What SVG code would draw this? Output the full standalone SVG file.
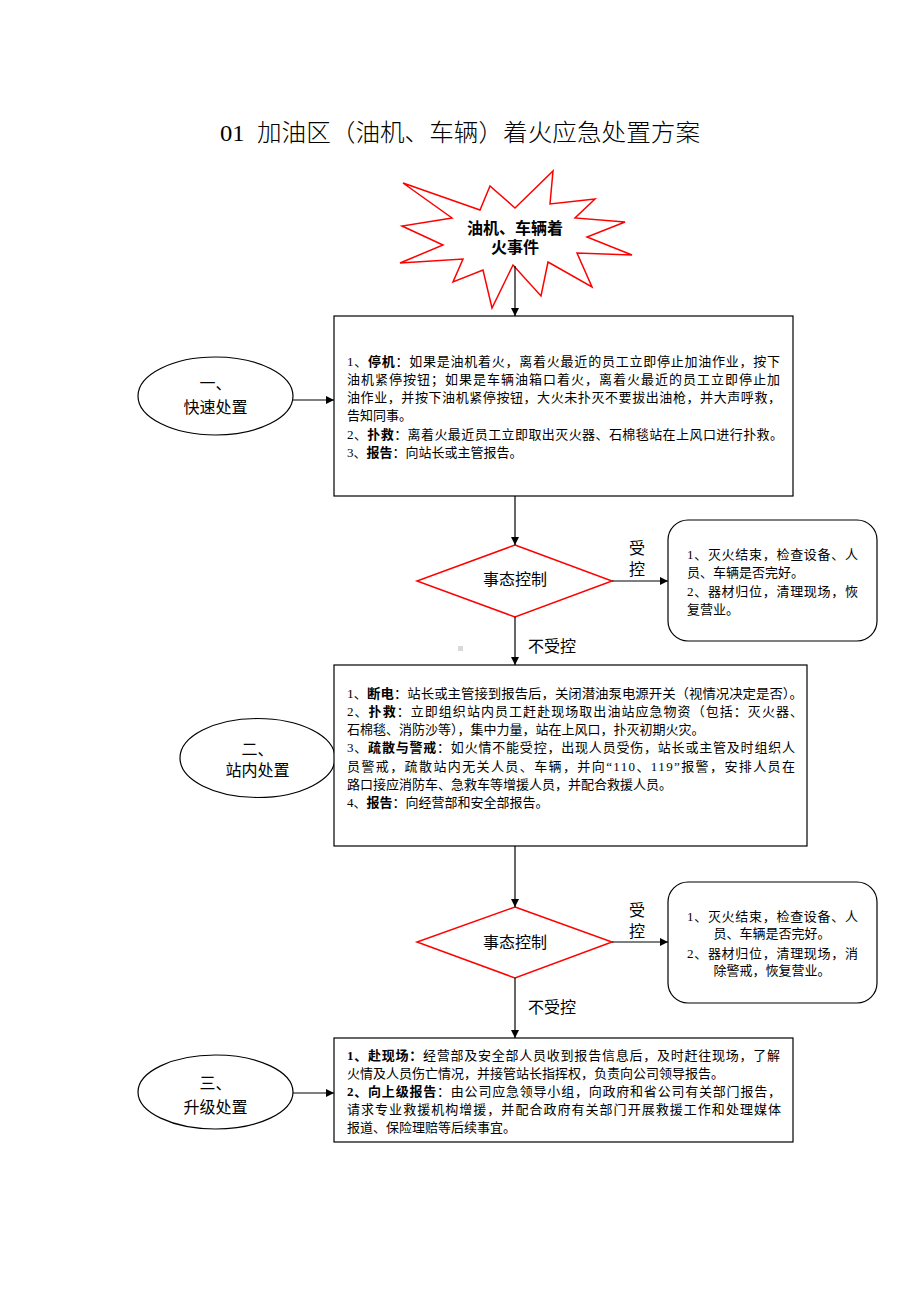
<svg xmlns="http://www.w3.org/2000/svg" width="920" height="1302" viewBox="0 0 920 1302">
<defs>
<marker id="arr" viewBox="0 0 10 10" refX="10" refY="5" markerWidth="9" markerHeight="8" markerUnits="userSpaceOnUse" orient="auto">
<path d="M0,0 L10,5 L0,10 z" fill="#000"/>
</marker>
<style>
.t{font-family:"Liberation Serif","Noto Sans CJK SC",serif;font-size:13px;fill:#000}
.c{font-family:"Liberation Serif","Noto Sans CJK SC",serif;font-size:16px;fill:#000;text-anchor:middle}
.s{font-family:"Liberation Sans","Noto Sans CJK SC",sans-serif;font-size:16px;fill:#000;text-anchor:middle}
.b{font-weight:bold}
.box{fill:#fff;stroke:#000;stroke-width:1.2}
.red{fill:#fff;stroke:#f00;stroke-width:1.5}
.conn{stroke:#000;stroke-width:1.2;fill:none;marker-end:url(#arr)}
</style>
</defs>
<rect width="920" height="1302" fill="#fff"/>
<text x="220" y="141" font-family="Liberation Serif,'Noto Sans CJK SC',serif" font-size="24" font-weight="300" textLength="480" lengthAdjust="spacingAndGlyphs">01&#160;&#160;加油区（油机、车辆）着火应急处置方案</text>

<g id="start">
<polygon class="red" stroke-width="2" points="403,183 480,210 490,186 515,208 553,171 550,204 595,199 575,218 625,222 587,237 632,255 577,253 592,287 548,262 541,296 513,265 492,308 483,270 453,282 463,259 400,263 443,245 402,226 452,218"/>
<text class="s b" x="515" y="234">油机、车辆着</text>
<text class="s b" x="515" y="253">火事件</text>
</g>

<g id="e1">
<ellipse cx="215.5" cy="396" rx="77.5" ry="39" class="box"/>
<text class="c" x="215.5" y="389">一、</text>
<text class="c" x="215.5" y="413">快速处置</text>
</g>

<g id="box1">
<rect x="334" y="316" width="459" height="180" class="box"/>
<text class="t" x="347" y="366" textLength="433" lengthAdjust="spacing">1、<tspan class="b">停机</tspan>：如果是油机着火，离着火最近的员工立即停止加油作业，按下</text>
<text class="t" x="347" y="384" textLength="433" lengthAdjust="spacing">油机紧停按钮；如果是车辆油箱口着火，离着火最近的员工立即停止加</text>
<text class="t" x="347" y="402" textLength="434" lengthAdjust="spacing">油作业，并按下油机紧停按钮，大火未扑灭不要拔出油枪，并大声呼救，</text>
<text class="t" x="347" y="420">告知同事。</text>
<text class="t" x="347" y="439" textLength="436" lengthAdjust="spacing">2、<tspan class="b">扑救</tspan>：离着火最近员工立即取出灭火器、石棉毯站在上风口进行扑救。</text>
<text class="t" x="347" y="457">3、<tspan class="b">报告</tspan>：向站长或主管报告。</text>
</g>

<g id="d1">
<polygon class="red" points="515,545 612,581 515,617 417,581"/>
<text class="s" x="515" y="585">事态控制</text>
</g>

<g id="r1">
<rect x="668" y="520" width="209" height="121" rx="20" ry="20" class="box"/>
<text class="t" x="687" y="559" textLength="171" lengthAdjust="spacing">1、灭火结束，检查设备、人</text>
<text class="t" x="687" y="577">员、车辆是否完好。</text>
<text class="t" x="687" y="596" textLength="171" lengthAdjust="spacing">2、器材归位，清理现场，恢</text>
<text class="t" x="687" y="614">复营业。</text>
</g>

<rect x="458" y="646" width="5" height="5" fill="#d9d9d9"/>

<g id="e2">
<ellipse cx="257.5" cy="758" rx="77.5" ry="39.5" class="box"/>
<text class="c" x="257.5" y="755">二、</text>
<text class="c" x="257.5" y="776">站内处置</text>
</g>

<g id="box2">
<rect x="334" y="665" width="473" height="181" class="box"/>
<text class="t" x="347" y="698" textLength="456" lengthAdjust="spacingAndGlyphs">1、<tspan class="b">断电</tspan>：站长或主管接到报告后，关闭潜油泵电源开关（视情况决定是否）。</text>
<text class="t" x="347" y="716" textLength="456" lengthAdjust="spacing">2、<tspan class="b">扑救</tspan>：立即组织站内员工赶赴现场取出油站应急物资（包括：灭火器、</text>
<text class="t" x="347" y="734">石棉毯、消防沙等），集中力量，站在上风口，扑灭初期火灾。</text>
<text class="t" x="347" y="752" textLength="448" lengthAdjust="spacing">3、<tspan class="b">疏散与警戒</tspan>：如火情不能受控，出现人员受伤，站长或主管及时组织人</text>
<text class="t" x="347" y="771" textLength="448" lengthAdjust="spacing">员警戒，疏散站内无关人员、车辆，并向“110、119”报警，安排人员在</text>
<text class="t" x="347" y="789">路口接应消防车、急救车等增援人员，并配合救援人员。</text>
<text class="t" x="347" y="807">4、<tspan class="b">报告</tspan>：向经营部和安全部报告。</text>
</g>

<g id="d2">
<polygon class="red" points="515,907 612,942 515,978 417,942"/>
<text class="s" x="515" y="948">事态控制</text>
</g>

<g id="r2">
<rect x="668" y="882" width="209" height="121" rx="20" ry="20" class="box"/>
<text class="t" x="687" y="921" textLength="171" lengthAdjust="spacing">1、灭火结束，检查设备、人</text>
<text class="t" x="772" y="938" text-anchor="middle">员、车辆是否完好。</text>
<text class="t" x="687" y="958" textLength="171" lengthAdjust="spacing">2、器材归位，清理现场，消</text>
<text class="t" x="772" y="975" text-anchor="middle">除警戒，恢复营业。</text>
</g>

<g id="e3">
<ellipse cx="215.5" cy="1092" rx="77.5" ry="37" class="box"/>
<text class="c" x="215.5" y="1089">三、</text>
<text class="c" x="215.5" y="1113">升级处置</text>
</g>

<g id="box3">
<rect x="334" y="1038" width="459" height="104" class="box"/>
<text class="t" x="347" y="1060" textLength="433" lengthAdjust="spacing"><tspan class="b">1、赴现场：</tspan>经营部及安全部人员收到报告信息后，及时赶往现场，了解</text>
<text class="t" x="347" y="1078">火情及人员伤亡情况，并接管站长指挥权，负责向公司领导报告。</text>
<text class="t" x="347" y="1096" textLength="434" lengthAdjust="spacing"><tspan class="b">2、向上级报告</tspan>：由公司应急领导小组，向政府和省公司有关部门报告，</text>
<text class="t" x="347" y="1114" textLength="434" lengthAdjust="spacing">请求专业救援机构增援，并配合政府有关部门开展救援工作和处理媒体</text>
<text class="t" x="347" y="1132">报道、保险理赔等后续事宜。</text>
</g>

<g id="connectors">
<line class="conn" x1="515" y1="266" x2="515" y2="316"/>
<line class="conn" x1="293" y1="400" x2="334" y2="400"/>
<line class="conn" x1="515" y1="496" x2="515" y2="545"/>
<line class="conn" x1="612" y1="581" x2="668" y2="581"/>
<line class="conn" x1="515" y1="617" x2="515" y2="665"/>
<line class="conn" x1="515" y1="846" x2="515" y2="907"/>
<line class="conn" x1="612" y1="942" x2="668" y2="942"/>
<line class="conn" x1="515" y1="978" x2="515" y2="1038"/>
<line class="conn" x1="293" y1="1093" x2="334" y2="1093"/>
<text class="c" x="637" y="554">受</text>
<text class="c" x="637" y="575">控</text>
<text class="c" x="552" y="652">不受控</text>
<text class="c" x="637" y="916">受</text>
<text class="c" x="637" y="937">控</text>
<text class="c" x="552" y="1013">不受控</text>
</g>
</svg>
